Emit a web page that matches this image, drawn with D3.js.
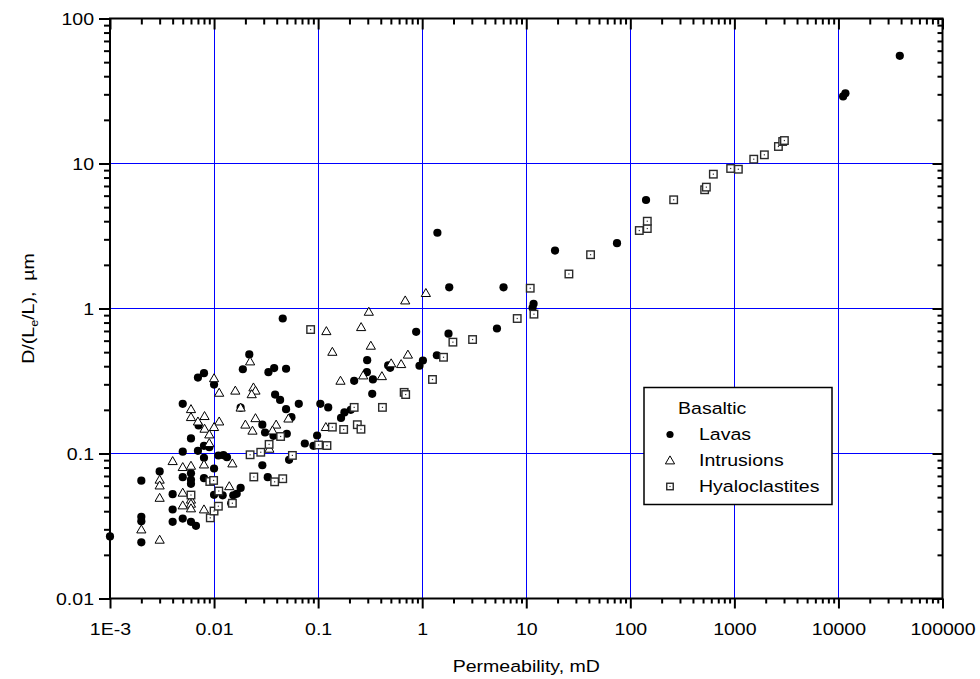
<!DOCTYPE html>
<html>
<head>
<meta charset="utf-8">
<script src="https://cdn.jsdelivr.net/npm/d3@7"></script>
<style>
  body { margin: 0; background: #fff; }
  svg text { font-family: Arial, "Liberation Sans", Helvetica, sans-serif; fill: #000; }
</style>
</head>
<body>
<svg id="chart" width="980" height="679"></svg>
<script>
// Permeability (mD) vs. D/(Le/L) (µm) for basaltic rocks
const lavas = [
  [0.001,0.0268],[0.002,0.065],[0.002,0.0366],[0.002,0.0341],[0.002,0.0244],[0.003,0.0752],
  [0.004,0.0524],[0.004,0.0411],[0.004,0.0338],[0.005,0.22],[0.005,0.103],[0.005,0.0687],
  [0.005,0.0356],[0.006,0.127],[0.006,0.0731],[0.006,0.0659],[0.006,0.0618],[0.006,0.0338],
  [0.0067,0.0317],[0.007,0.334],[0.008,0.358],[0.007,0.1044],[0.008,0.113],[0.008,0.0933],
  [0.008,0.0676],[0.0071,0.156],[0.009,0.1105],[0.01,0.299],[0.01,0.0788],[0.01,0.0519],
  [0.011,0.0969],[0.0123,0.0973],[0.0133,0.0942],[0.0121,0.0515],[0.0146,0.0454],[0.0153,0.0515],
  [0.0165,0.0527],[0.018,0.0579],[0.018,0.207],[0.0189,0.381],[0.0218,0.482],[0.0291,0.158],
  [0.0291,0.083],[0.0309,0.1396],[0.0372,0.1324],[0.0328,0.0687],[0.0333,0.364],[0.0378,0.388],
  [0.0386,0.255],[0.0431,0.234],[0.0457,0.853],[0.0492,0.384],[0.0492,0.202],[0.05,0.1368],
  [0.0526,0.0905],[0.0554,0.178],[0.0652,0.22],[0.0745,0.1172],[0.0902,0.113],[0.0978,0.1331],
  [0.105,0.22],[0.125,0.208],[0.166,0.176],[0.179,0.192],[0.206,0.2],[0.222,0.317],
  [0.294,0.364],[0.296,0.44],[0.336,0.324],[0.331,0.258],[0.471,0.405],[0.492,0.39],
  [0.875,0.69],[0.942,0.403],[1.016,0.438],[1.384,0.476],[1.40,3.33],[1.79,0.67],
  [1.82,1.4],[5.23,0.728],[6.05,1.4],[11.5,1.011],[11.76,1.077],[18.9,2.51],
  [74.5,2.82],[141.6,5.6],[11090,29.0],[11670,30.5],[38880,55.3]
];
const intrusions = [
  [0.002,0.0299],[0.003,0.0659],[0.003,0.0601],[0.003,0.0494],[0.003,0.0254],[0.004,0.0885],
  [0.005,0.0805],[0.005,0.0536],[0.005,0.0438],[0.006,0.0822],[0.006,0.048],[0.006,0.045],
  [0.006,0.0418],[0.008,0.0839],[0.008,0.0411],[0.014,0.0594],[0.015,0.0853],[0.006,0.202],
  [0.006,0.178],[0.0081,0.181],[0.007,0.166],[0.0081,0.148],[0.0112,0.166],[0.01,0.152],
  [0.009,0.1352],[0.009,0.1178],[0.01,0.33],[0.0112,0.262],[0.016,0.271],[0.0222,0.431],
  [0.0239,0.285],[0.025,0.271],[0.023,0.256],[0.018,0.207],[0.02,0.158],[0.025,0.175],
  [0.0234,0.1435],[0.0518,0.174],[0.0395,0.158],[0.0364,0.144],[0.034,0.1077],[0.1186,0.152],
  [0.12,0.697],[0.137,0.502],[0.164,0.317],[0.259,0.743],[0.271,0.345],[0.307,0.948],
  [0.321,0.553],[0.41,0.341],[0.5035,0.418],[0.628,0.413],[0.687,1.135],[0.729,0.48],
  [1.085,1.277]
];
const hyaloclastites = [
  [0.006,0.0517],[0.0091,0.0641],[0.0092,0.036],[0.0099,0.0652],[0.01,0.0401],[0.0111,0.0551],
  [0.011,0.0433],[0.015,0.0454],[0.0222,0.098],[0.0241,0.0689],[0.0281,0.102],[0.0338,0.1156],
  [0.0382,0.0638],[0.0436,0.131],[0.0457,0.067],[0.0566,0.097],[0.0847,0.716],[0.101,0.1145],
  [0.1216,0.1135],[0.137,0.152],[0.176,0.1465],[0.222,0.208],[0.238,0.158],[0.258,0.147],
  [0.415,0.208],[0.671,0.264],[0.694,0.255],[1.256,0.324],[1.603,0.461],[1.973,0.586],
  [3.05,0.611],[8.19,0.853],[10.92,1.38],[11.86,0.914],[25.7,1.73],[41.5,2.35],
  [122,3.45],[145.6,3.56],[145.6,4.0],[261,5.62],[518,6.59],[538,6.87],
  [628,8.44],[921,9.24],[1092,9.13],[1535,10.71],[1942,11.48],[2650,13.1],
  [2912,14.18],[3025,14.4]
];

const xTicks = [1e-3, 0.01, 0.1, 1, 10, 100, 1000, 10000, 100000];
const xTickLabels = ["1E-3", "0.01", "0.1", "1", "10", "100", "1000", "10000", "100000"];
const yTicks = [0.01, 0.1, 1, 10, 100];
const yTickLabels = ["0.01", "0.1", "1", "10", "100"];
const legendTitle = "Basaltic";
const seriesNames = ["Lavas", "Intrusions", "Hyaloclastites"];

const FONT = 17;      // label font size
const SX = 1.15;      // widening of glyphs along the text direction

const svg = d3.select("#chart");
const pL = 110, pR = 942.5, pT = 18.5, pB = 598.5;

const x = d3.scaleLog().domain([1e-3, 1e5]).range([pL, pR]);
const y = d3.scaleLog().domain([0.01, 100]).range([pB, pT]);

const minorOf = (lo, hi) => {
  const out = [];
  for (let e = lo; e < hi; e++) for (let m = 2; m <= 9; m++) out.push(m * Math.pow(10, e));
  return out;
};
const xMinor = minorOf(-3, 5);
const yMinor = minorOf(-2, 2);
const snap = v => Math.floor(v) + 0.5;

// grid lines at inner decades
const grid = svg.append("g").attr("stroke", "#0000ff").attr("stroke-width", 1);
grid.selectAll("line.v").data(xTicks.slice(1, -1)).join("line").attr("class", "v")
  .attr("x1", d => snap(x(d))).attr("x2", d => snap(x(d))).attr("y1", pT).attr("y2", pB);
grid.selectAll("line.h").data(yTicks.slice(1, -1)).join("line").attr("class", "h")
  .attr("x1", pL).attr("x2", pR).attr("y1", d => snap(y(d))).attr("y2", d => snap(y(d)));

function styleAxis(g) {
  g.select(".domain").remove();
  g.selectAll(".tick line").attr("stroke", "#000").attr("stroke-width", 2);
}

// bottom axis with labels
const gx = svg.append("g").attr("transform", `translate(0,${pB})`)
  .call(d3.axisBottom(x).tickValues(xTicks).tickFormat((d, i) => xTickLabels[i]).tickSize(10).tickSizeOuter(0))
  .call(styleAxis);
gx.selectAll(".tick text")
  .attr("font-size", FONT).attr("dy", 0).attr("y", 37)
  .attr("transform", `scale(${SX},1)`);
svg.append("g").attr("transform", `translate(0,${pB})`)
  .call(d3.axisBottom(x).tickValues(xMinor).tickFormat("").tickSize(5).tickSizeOuter(0))
  .call(styleAxis);

// top axis, inward ticks
svg.append("g").attr("transform", `translate(0,${pT})`)
  .call(d3.axisTop(x).tickValues(xTicks).tickFormat("").tickSizeInner(-11).tickSizeOuter(0))
  .call(styleAxis);
svg.append("g").attr("transform", `translate(0,${pT})`)
  .call(d3.axisTop(x).tickValues(xMinor).tickFormat("").tickSizeInner(-6).tickSizeOuter(0))
  .call(styleAxis);

// left axis with labels
const gy = svg.append("g").attr("transform", `translate(${pL},0)`)
  .call(d3.axisLeft(y).tickValues(yTicks).tickFormat((d, i) => yTickLabels[i]).tickSize(11).tickSizeOuter(0))
  .call(styleAxis);
gy.selectAll(".tick text")
  .attr("font-size", FONT).attr("x", -16 / SX).attr("dy", "0.36em")
  .attr("transform", `scale(${SX},1)`);
svg.append("g").attr("transform", `translate(${pL},0)`)
  .call(d3.axisLeft(y).tickValues(yMinor).tickFormat("").tickSize(6).tickSizeOuter(0))
  .call(styleAxis);

// right axis, inward ticks
svg.append("g").attr("transform", `translate(${pR},0)`)
  .call(d3.axisRight(y).tickValues(yTicks).tickFormat("").tickSizeInner(-10).tickSizeOuter(0))
  .call(styleAxis);
svg.append("g").attr("transform", `translate(${pR},0)`)
  .call(d3.axisRight(y).tickValues(yMinor).tickFormat("").tickSizeInner(-5).tickSizeOuter(0))
  .call(styleAxis);

// frame
svg.append("rect")
  .attr("x", pL).attr("y", pT).attr("width", pR - pL).attr("height", pB - pT)
  .attr("fill", "none").attr("stroke", "#000").attr("stroke-width", 2);

// axis titles
svg.append("text")
  .attr("transform", `translate(${(pL + pR) / 2},672) scale(${SX},1)`)
  .attr("text-anchor", "middle").attr("font-size", FONT)
  .text("Permeability, mD");

const yt = svg.append("text")
  .attr("transform", `translate(34,${(pT + pB) / 2}) rotate(-90) scale(${SX},1)`)
  .attr("text-anchor", "middle").attr("font-size", FONT)
  .style("white-space", "pre");
yt.append("tspan").text("D/(L");
yt.append("tspan").attr("font-size", 11).attr("dy", 4).text("e");
yt.append("tspan").attr("dy", -4).text("/L),  µm");

// marker shapes
const triPath = "M0,-4.6L4.6,3.4L-4.6,3.4Z";
function drawCircle(g, cx, cy, r) {
  g.append("circle").attr("cx", cx).attr("cy", cy).attr("r", r).attr("fill", "#000");
}
function drawTriangle(g, cx, cy) {
  g.append("path").attr("d", triPath).attr("transform", `translate(${cx},${cy})`)
    .attr("fill", "#fff").attr("stroke", "#000").attr("stroke-width", 1);
}
function drawSquare(g, cx, cy, s) {
  g.append("rect").attr("x", cx - s / 2).attr("y", cy - s / 2).attr("width", s).attr("height", s)
    .attr("fill", "#fff").attr("stroke", "#2a2a2a").attr("stroke-width", 1.4);
  g.append("rect").attr("x", cx - 0.6).attr("y", cy - 0.6).attr("width", 1.2).attr("height", 1.2)
    .attr("fill", "#333");
}

const pts = svg.append("g");
lavas.forEach(d => drawCircle(pts, x(d[0]), y(d[1]), 4.1));
intrusions.forEach(d => drawTriangle(pts, x(d[0]), y(d[1])));
hyaloclastites.forEach(d => drawSquare(pts, x(d[0]), y(d[1]), 7.5));

// legend
const lg = svg.append("g");
lg.append("rect").attr("x", 644).attr("y", 387.5).attr("width", 188).attr("height", 117)
  .attr("fill", "#fff").attr("stroke", "#000").attr("stroke-width", 1.5);
lg.append("text").attr("transform", `translate(678,414) scale(${SX},1)`)
  .attr("font-size", FONT).text(legendTitle);
const rowY = [440, 466, 492];
seriesNames.forEach((name, i) => {
  lg.append("text").attr("transform", `translate(699,${rowY[i]}) scale(${SX},1)`)
    .attr("font-size", FONT).text(name);
});
drawCircle(lg, 670, 434.5, 3.6);
drawTriangle(lg, 670, 460.5);
drawSquare(lg, 670, 486.5, 6.5);
</script>
</body>
</html>
